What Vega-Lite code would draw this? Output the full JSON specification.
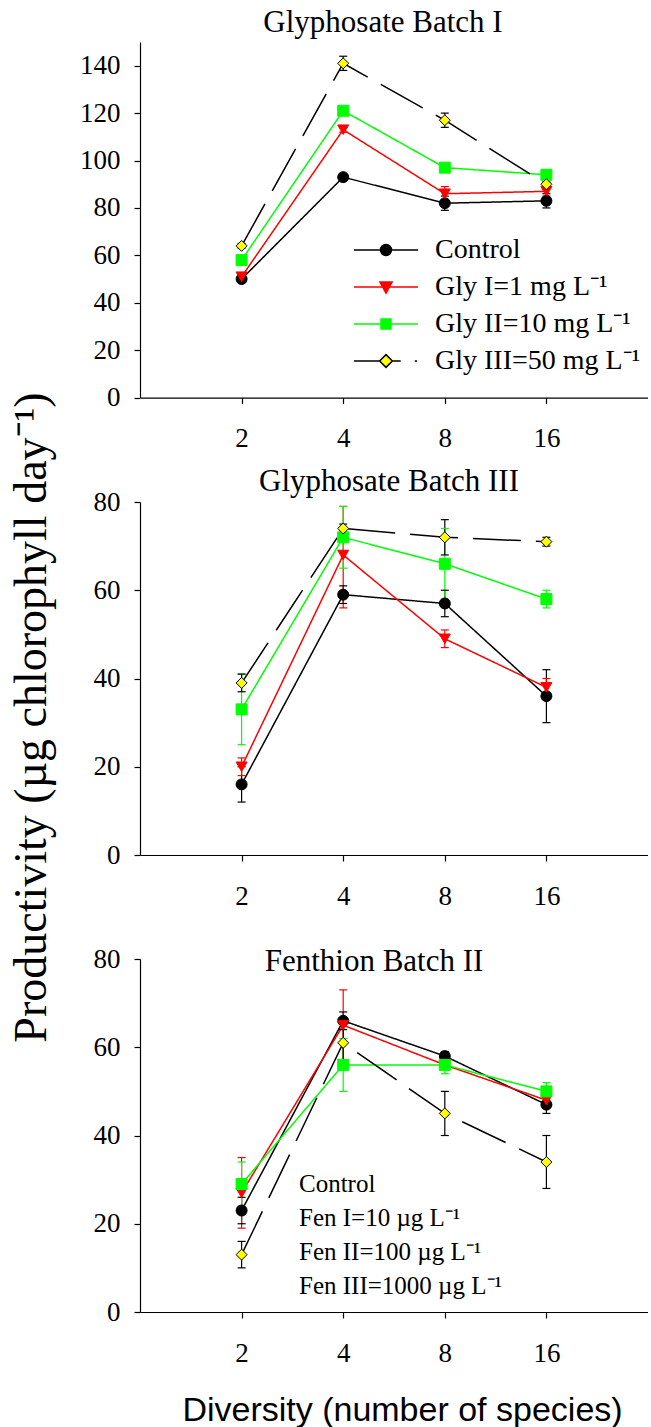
{
  "$schema": "https://vega.github.io/schema/vega-lite/v6.json",
  "background": "white",
  "padding": {"left": 8, "top": 7, "right": 0, "bottom": 0},
  "config": {
    "font": "Liberation Serif",
    "view": {"stroke": null},
    "axis": {"labelFont": "Liberation Serif", "labelFontSize": 27, "labelColor": "black", "domainColor": "black", "domainWidth": 1.2, "tickColor": "black", "tickWidth": 1.2, "tickSize": 6, "grid": false, "titleFont": "Liberation Serif", "titleFontWeight": "normal", "titleColor": "black"},
    "title": {"font": "Liberation Serif", "fontSize": 31, "fontWeight": "normal", "color": "black", "baseline": "alphabetic"},
    "legend": {"labelFont": "Liberation Serif", "labelColor": "black", "labelLimit": 400}
  },
  "data": {"values": [
    {"p": 1, "s": "Control", "x": 2, "y": 50, "lo": 49, "hi": 51},
    {"p": 1, "s": "Control", "x": 4, "y": 93, "lo": 92, "hi": 94},
    {"p": 1, "s": "Control", "x": 8, "y": 82, "lo": 79, "hi": 85},
    {"p": 1, "s": "Control", "x": 16, "y": 83, "lo": 80, "hi": 86},
    {"p": 1, "s": "Gly I=1 mg L⁻¹", "x": 2, "y": 51, "lo": 50, "hi": 52},
    {"p": 1, "s": "Gly I=1 mg L⁻¹", "x": 4, "y": 113, "lo": 112, "hi": 114},
    {"p": 1, "s": "Gly I=1 mg L⁻¹", "x": 8, "y": 86, "lo": 83, "hi": 89},
    {"p": 1, "s": "Gly I=1 mg L⁻¹", "x": 16, "y": 87, "lo": 85, "hi": 89},
    {"p": 1, "s": "Gly II=10 mg L⁻¹", "x": 2, "y": 58, "lo": 57, "hi": 59},
    {"p": 1, "s": "Gly II=10 mg L⁻¹", "x": 4, "y": 121, "lo": 120, "hi": 122},
    {"p": 1, "s": "Gly II=10 mg L⁻¹", "x": 8, "y": 97, "lo": 96, "hi": 98},
    {"p": 1, "s": "Gly II=10 mg L⁻¹", "x": 16, "y": 94, "lo": 92, "hi": 96},
    {"p": 1, "s": "Gly III=50 mg L⁻¹", "x": 2, "y": 64, "lo": 63, "hi": 65},
    {"p": 1, "s": "Gly III=50 mg L⁻¹", "x": 4, "y": 141, "lo": 138, "hi": 144},
    {"p": 1, "s": "Gly III=50 mg L⁻¹", "x": 8, "y": 117, "lo": 114, "hi": 120},
    {"p": 1, "s": "Gly III=50 mg L⁻¹", "x": 16, "y": 90, "lo": 89, "hi": 91},
    {"p": 2, "s": "Control", "x": 2, "y": 16, "lo": 12, "hi": 20},
    {"p": 2, "s": "Control", "x": 4, "y": 59, "lo": 57, "hi": 61},
    {"p": 2, "s": "Control", "x": 8, "y": 57, "lo": 54, "hi": 60},
    {"p": 2, "s": "Control", "x": 16, "y": 36, "lo": 30, "hi": 42},
    {"p": 2, "s": "Gly I=1 mg L⁻¹", "x": 2, "y": 20, "lo": 18, "hi": 22},
    {"p": 2, "s": "Gly I=1 mg L⁻¹", "x": 4, "y": 68, "lo": 56, "hi": 79},
    {"p": 2, "s": "Gly I=1 mg L⁻¹", "x": 8, "y": 49, "lo": 47, "hi": 51},
    {"p": 2, "s": "Gly I=1 mg L⁻¹", "x": 16, "y": 38, "lo": 36, "hi": 40},
    {"p": 2, "s": "Gly II=10 mg L⁻¹", "x": 2, "y": 33, "lo": 25, "hi": 41},
    {"p": 2, "s": "Gly II=10 mg L⁻¹", "x": 4, "y": 72, "lo": 65, "hi": 79},
    {"p": 2, "s": "Gly II=10 mg L⁻¹", "x": 8, "y": 66, "lo": 58, "hi": 74},
    {"p": 2, "s": "Gly II=10 mg L⁻¹", "x": 16, "y": 58, "lo": 56, "hi": 60},
    {"p": 2, "s": "Gly III=50 mg L⁻¹", "x": 2, "y": 39, "lo": 37, "hi": 41},
    {"p": 2, "s": "Gly III=50 mg L⁻¹", "x": 4, "y": 74, "lo": 73, "hi": 75},
    {"p": 2, "s": "Gly III=50 mg L⁻¹", "x": 8, "y": 72, "lo": 68, "hi": 76},
    {"p": 2, "s": "Gly III=50 mg L⁻¹", "x": 16, "y": 71, "lo": 70, "hi": 72},
    {"p": 3, "s": "Control", "x": 2, "y": 23, "lo": 20, "hi": 26},
    {"p": 3, "s": "Control", "x": 4, "y": 66, "lo": 64, "hi": 68},
    {"p": 3, "s": "Control", "x": 8, "y": 58, "lo": 57, "hi": 59},
    {"p": 3, "s": "Control", "x": 16, "y": 47, "lo": 45, "hi": 49},
    {"p": 3, "s": "Fen I=10 µg L⁻¹", "x": 2, "y": 27, "lo": 19, "hi": 35},
    {"p": 3, "s": "Fen I=10 µg L⁻¹", "x": 4, "y": 65, "lo": 57, "hi": 73},
    {"p": 3, "s": "Fen I=10 µg L⁻¹", "x": 8, "y": 56, "lo": 55, "hi": 57},
    {"p": 3, "s": "Fen I=10 µg L⁻¹", "x": 16, "y": 48, "lo": 47, "hi": 49},
    {"p": 3, "s": "Fen II=100 µg L⁻¹", "x": 2, "y": 29, "lo": 24, "hi": 34},
    {"p": 3, "s": "Fen II=100 µg L⁻¹", "x": 4, "y": 56, "lo": 50, "hi": 62},
    {"p": 3, "s": "Fen II=100 µg L⁻¹", "x": 8, "y": 56, "lo": 54, "hi": 58},
    {"p": 3, "s": "Fen II=100 µg L⁻¹", "x": 16, "y": 50, "lo": 48, "hi": 52},
    {"p": 3, "s": "Fen III=1000 µg L⁻¹", "x": 2, "y": 13, "lo": 10, "hi": 16},
    {"p": 3, "s": "Fen III=1000 µg L⁻¹", "x": 4, "y": 61, "lo": 56, "hi": 66},
    {"p": 3, "s": "Fen III=1000 µg L⁻¹", "x": 8, "y": 45, "lo": 40, "hi": 50},
    {"p": 3, "s": "Fen III=1000 µg L⁻¹", "x": 16, "y": 34, "lo": 28, "hi": 40}
  ]},
  "spacing": 104,
  "bounds": "flush",
  "resolve": {
    "scale": {"x": "independent", "y": "independent", "color": "independent", "fill": "independent", "stroke": "independent", "shape": "independent", "strokeDash": "independent"},
    "legend": {"fill": "independent", "shape": "independent"}
  },
  "vconcat": [
    {
      "width": 508, "height": 355.6,
      "title": {"text": "Glyphosate Batch I", "offset": 3, "dx": -11},
      "transform": [{"filter": "datum.p == 1"}],
      "resolve": {"scale": {"shape": "independent", "fill": "independent", "stroke": "independent"}},
      "encoding": {
        "x": {"field": "x", "type": "quantitative", "scale": {"type": "log", "base": 2, "domain": [1, 32]}, "axis": {"values": [2, 4, 8, 16], "format": "d", "title": null, "labelPadding": 22}},
        "y": {"field": "y", "type": "quantitative", "scale": {"domain": [0, 150], "nice": false}, "axis": {"values": [0, 20, 40, 60, 80, 100, 120, 140], "title": "Productivity (µg chlorophyll day⁻¹)", "titleFontSize": 46, "titleX": -85, "titleY": 675, "labelPadding": 14}}
      },
      "layer": [
        {"mark": {"type": "line", "strokeWidth": 1.5}, "encoding": {
          "color": {"field": "s", "type": "nominal", "scale": {"domain": ["Gly III=50 mg L⁻¹", "Gly II=10 mg L⁻¹", "Gly I=1 mg L⁻¹", "Control"], "range": ["black", "#00ff00", "#ff0000", "black"]}, "legend": null},
          "strokeDash": {"field": "s", "type": "nominal", "scale": {"domain": ["Gly III=50 mg L⁻¹", "Gly II=10 mg L⁻¹", "Gly I=1 mg L⁻¹", "Control"], "range": [[48, 15], [1, 0], [1, 0], [1, 0]]}, "legend": null}}},
        {"mark": {"type": "rule", "strokeWidth": 1.2}, "encoding": {"y": {"field": "lo", "type": "quantitative"}, "y2": {"field": "hi"},
          "color": {"field": "s", "type": "nominal", "legend": null}}},
        {"mark": {"type": "tick", "orient": "horizontal", "size": 8, "thickness": 1.2, "opacity": 1}, "encoding": {"y": {"field": "lo", "type": "quantitative"},
          "color": {"field": "s", "type": "nominal", "legend": null}}},
        {"mark": {"type": "tick", "orient": "horizontal", "size": 8, "thickness": 1.2, "opacity": 1}, "encoding": {"y": {"field": "hi", "type": "quantitative"},
          "color": {"field": "s", "type": "nominal", "legend": null}}},
        {"mark": {"type": "point", "filled": true, "size": 121, "strokeWidth": 1, "opacity": 1}, "encoding": {
          "shape": {"field": "s", "type": "nominal", "scale": {"domain": ["Gly III=50 mg L⁻¹", "Gly II=10 mg L⁻¹", "Gly I=1 mg L⁻¹", "Control"], "range": ["diamond", "square", "triangle-down", "circle"]}, "legend": null},
          "stroke": {"field": "s", "type": "nominal", "scale": {"domain": ["Gly III=50 mg L⁻¹", "Gly II=10 mg L⁻¹", "Gly I=1 mg L⁻¹", "Control"], "range": ["black", "#00ff00", "#ff0000", "black"]}, "legend": null},
          "fill": {"field": "s", "type": "nominal", "scale": {"domain": ["Gly III=50 mg L⁻¹", "Gly II=10 mg L⁻¹", "Gly I=1 mg L⁻¹", "Control"], "range": ["#ffff00", "#00ff00", "#ff0000", "black"]}, "legend": null}
        }},
        {"mark": {"type": "point", "filled": true, "size": 121, "opacity": 0}, "encoding": {
          "shape": {"field": "s", "type": "nominal", "scale": {"domain": ["Control", "Gly I=1 mg L⁻¹", "Gly II=10 mg L⁻¹", "Gly III=50 mg L⁻¹"], "range": [
            "M-1,0H-0.172M0.172,0H1M-0.172,0A0.172,0.172,0,1,0,0.172,0A0.172,0.172,0,1,0,-0.172,0Z",
            "M-1,0H1M-0.19,-0.16L0.19,-0.16L0,0.19Z",
            "M-1,0H1M-0.156,-0.156H0.156V0.156H-0.156Z",
            "M-1,0H-0.2M0.2,0H0.46M0.9,0H0.97M0,-0.2L0.2,0L0,0.2L-0.2,0Z"]},
            "legend": {"orient": "none", "legendX": 213, "legendY": 189.5, "title": null, "symbolSize": 4096, "symbolStrokeWidth": 1.5, "symbolOpacity": 1, "symbolOffset": 0, "labelOffset": 16, "labelFontSize": 28, "rowPadding": 0, "clipHeight": 37}},
          "fill": {"field": "s", "type": "nominal", "scale": {"domain": ["Control", "Gly I=1 mg L⁻¹", "Gly II=10 mg L⁻¹", "Gly III=50 mg L⁻¹"], "range": ["black", "#ff0000", "#00ff00", "#ffff00"]}},
          "stroke": {"field": "s", "type": "nominal", "scale": {"domain": ["Control", "Gly I=1 mg L⁻¹", "Gly II=10 mg L⁻¹", "Gly III=50 mg L⁻¹"], "range": ["black", "#ff0000", "#00ff00", "black"]}}
        }}
      ]
    },
    {
      "width": 508, "height": 353,
      "title": {"text": "Glyphosate Batch III", "offset": -10, "dx": -5},
      "transform": [{"filter": "datum.p == 2"}],
      "encoding": {
        "x": {"field": "x", "type": "quantitative", "scale": {"type": "log", "base": 2, "domain": [1, 32]}, "axis": {"values": [2, 4, 8, 16], "format": "d", "title": null, "labelPadding": 22}},
        "y": {"field": "y", "type": "quantitative", "scale": {"domain": [0, 80], "nice": false}, "axis": {"values": [0, 20, 40, 60, 80], "title": null, "labelPadding": 14}}
      },
      "layer": [
        {"mark": {"type": "line", "strokeWidth": 1.5}, "encoding": {
          "color": {"field": "s", "type": "nominal", "scale": {"domain": ["Gly III=50 mg L⁻¹", "Gly II=10 mg L⁻¹", "Gly I=1 mg L⁻¹", "Control"], "range": ["black", "#00ff00", "#ff0000", "black"]}, "legend": null},
          "strokeDash": {"field": "s", "type": "nominal", "scale": {"domain": ["Gly III=50 mg L⁻¹", "Gly II=10 mg L⁻¹", "Gly I=1 mg L⁻¹", "Control"], "range": [[48, 15], [1, 0], [1, 0], [1, 0]]}, "legend": null}}},
        {"mark": {"type": "rule", "strokeWidth": 1.2}, "encoding": {"y": {"field": "lo", "type": "quantitative"}, "y2": {"field": "hi"},
          "color": {"field": "s", "type": "nominal", "legend": null}}},
        {"mark": {"type": "tick", "orient": "horizontal", "size": 8, "thickness": 1.2, "opacity": 1}, "encoding": {"y": {"field": "lo", "type": "quantitative"},
          "color": {"field": "s", "type": "nominal", "legend": null}}},
        {"mark": {"type": "tick", "orient": "horizontal", "size": 8, "thickness": 1.2, "opacity": 1}, "encoding": {"y": {"field": "hi", "type": "quantitative"},
          "color": {"field": "s", "type": "nominal", "legend": null}}},
        {"mark": {"type": "point", "filled": true, "size": 121, "strokeWidth": 1, "opacity": 1}, "encoding": {
          "shape": {"field": "s", "type": "nominal", "scale": {"domain": ["Gly III=50 mg L⁻¹", "Gly II=10 mg L⁻¹", "Gly I=1 mg L⁻¹", "Control"], "range": ["diamond", "square", "triangle-down", "circle"]}, "legend": null},
          "stroke": {"field": "s", "type": "nominal", "scale": {"domain": ["Gly III=50 mg L⁻¹", "Gly II=10 mg L⁻¹", "Gly I=1 mg L⁻¹", "Control"], "range": ["black", "#00ff00", "#ff0000", "black"]}, "legend": null},
          "fill": {"field": "s", "type": "nominal", "scale": {"domain": ["Gly III=50 mg L⁻¹", "Gly II=10 mg L⁻¹", "Gly I=1 mg L⁻¹", "Control"], "range": ["#ffff00", "#00ff00", "#ff0000", "black"]}, "legend": null}
        }}
      ]
    },
    {
      "width": 508, "height": 353,
      "title": {"text": "Fenthion Batch II", "offset": -33, "dx": -20},
      "transform": [{"filter": "datum.p == 3"}],
      "encoding": {
        "x": {"field": "x", "type": "quantitative", "scale": {"type": "log", "base": 2, "domain": [1, 32]}, "axis": {"values": [2, 4, 8, 16], "format": "d", "title": "Diversity (number of species)", "titleFont": "Liberation Sans", "titleFontSize": 34, "titleX": 262, "titleY": 81, "labelPadding": 22}},
        "y": {"field": "y", "type": "quantitative", "scale": {"domain": [0, 80], "nice": false}, "axis": {"values": [0, 20, 40, 60, 80], "title": null, "labelPadding": 14}}
      },
      "layer": [
        {"mark": {"type": "line", "strokeWidth": 1.5}, "encoding": {
          "color": {"field": "s", "type": "nominal", "scale": {"domain": ["Fen III=1000 µg L⁻¹", "Fen II=100 µg L⁻¹", "Fen I=10 µg L⁻¹", "Control"], "range": ["black", "#00ff00", "#ff0000", "black"]}, "legend": null},
          "strokeDash": {"field": "s", "type": "nominal", "scale": {"domain": ["Fen III=1000 µg L⁻¹", "Fen II=100 µg L⁻¹", "Fen I=10 µg L⁻¹", "Control"], "range": [[48, 15], [1, 0], [1, 0], [1, 0]]}, "legend": null}}},
        {"mark": {"type": "rule", "strokeWidth": 1.2}, "encoding": {"y": {"field": "lo", "type": "quantitative"}, "y2": {"field": "hi"},
          "color": {"field": "s", "type": "nominal", "legend": null}}},
        {"mark": {"type": "tick", "orient": "horizontal", "size": 8, "thickness": 1.2, "opacity": 1}, "encoding": {"y": {"field": "lo", "type": "quantitative"},
          "color": {"field": "s", "type": "nominal", "legend": null}}},
        {"mark": {"type": "tick", "orient": "horizontal", "size": 8, "thickness": 1.2, "opacity": 1}, "encoding": {"y": {"field": "hi", "type": "quantitative"},
          "color": {"field": "s", "type": "nominal", "legend": null}}},
        {"mark": {"type": "point", "filled": true, "size": 121, "strokeWidth": 1, "opacity": 1}, "encoding": {
          "shape": {"field": "s", "type": "nominal", "scale": {"domain": ["Fen III=1000 µg L⁻¹", "Fen II=100 µg L⁻¹", "Fen I=10 µg L⁻¹", "Control"], "range": ["diamond", "square", "triangle-down", "circle"]}, "legend": null},
          "stroke": {"field": "s", "type": "nominal", "scale": {"domain": ["Fen III=1000 µg L⁻¹", "Fen II=100 µg L⁻¹", "Fen I=10 µg L⁻¹", "Control"], "range": ["black", "#00ff00", "#ff0000", "black"]}, "legend": null},
          "fill": {"field": "s", "type": "nominal", "scale": {"domain": ["Control", "Fen I=10 µg L⁻¹", "Fen II=100 µg L⁻¹", "Fen III=1000 µg L⁻¹"], "range": ["black", "#ff0000", "#00ff00", "#ffff00"]},
            "legend": {"orient": "none", "legendX": 130, "legendY": 212, "title": null, "symbolSize": 100, "symbolOpacity": 0, "symbolOffset": 0, "labelOffset": 4, "labelFontSize": 25, "rowPadding": 8}}
        }}
      ]
    }
  ]
}
